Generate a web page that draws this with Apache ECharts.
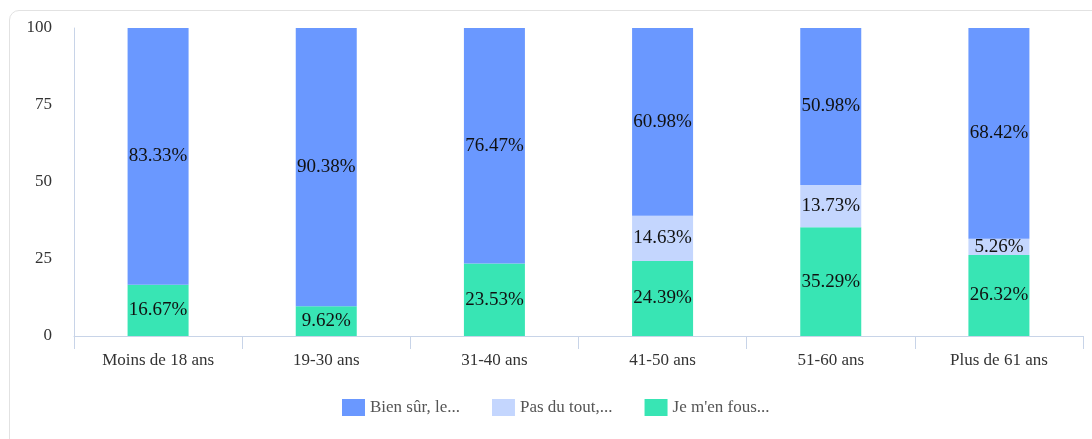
<!DOCTYPE html>
<html>
<head>
<meta charset="utf-8">
<style>
  html, body { margin: 0; padding: 0; background: #fff; }
  #frame {
    position: absolute; left: 9px; top: 10px; width: 1120px; height: 470px;
    border: 1px solid #e2e2e2; border-radius: 10px; box-sizing: border-box;
  }
  #chart { position: absolute; left: 0; top: 0; width: 1092px; height: 439px; }
</style>
<script src="https://cdn.jsdelivr.net/npm/echarts@6/dist/echarts.min.js"></script>
</head>
<body>
<div id="frame"></div>
<div id="chart"></div>
<script>
// Age groups along the x axis
const categories = ['Moins de 18 ans', '19-30 ans', '31-40 ans', '41-50 ans', '51-60 ans', 'Plus de 61 ans'];

// Share of answers per age group (%)
const bienSur   = [83.33, 90.38, 76.47, 60.98, 50.98, 68.42];
const pasDuTout = [0, 0, 0, 14.63, 13.73, 5.26];
const jeMenFous = [16.67, 9.62, 23.53, 24.39, 35.29, 26.32];

const yTicks = [0, 25, 50, 75, 100];

const serif = '"Liberation Serif", "DejaVu Serif", serif';

const labelStyle = {
  show: true,
  position: 'inside',
  color: '#111',
  fontFamily: serif,
  fontSize: 19,
  formatter: p => (p.value ? p.value.toFixed(2) + '%' : '')
};

function bar(name, data, color) {
  return {
    name: name,
    type: 'bar',
    stack: 'total',
    barWidth: 61,
    data: data,
    itemStyle: { color: color },
    label: labelStyle,
    emphasis: { disabled: true }
  };
}

const chart = echarts.init(document.getElementById('chart'), null, { renderer: 'canvas' });
chart.setOption({
  animation: false,
  textStyle: { fontFamily: serif },
  legend: {
    left: 337,
    top: 394,
    itemWidth: 23,
    itemHeight: 17,
    itemGap: 32,
    icon: 'rect',
    textStyle: { fontFamily: serif, fontSize: 17, color: '#555' },
    data: ['Bien sûr, le...', 'Pas du tout,...', "Je m'en fous..."]
  },
  grid: { left: 74, right: 9, top: 28, bottom: 103, containLabel: false },
  xAxis: {
    type: 'category',
    data: categories,
    axisLine: { lineStyle: { color: '#c8d4e8' } },
    axisTick: { show: true, length: 13, lineStyle: { color: '#c8d4e8' } },
    axisLabel: { fontFamily: serif, fontSize: 17, color: '#333', margin: 16 }
  },
  yAxis: {
    type: 'value',
    min: yTicks[0],
    max: yTicks[yTicks.length - 1],
    interval: 25,
    axisLine: { show: true, lineStyle: { color: '#c8d4e8' } },
    axisTick: { show: false },
    splitLine: { show: false },
    axisLabel: { fontFamily: serif, fontSize: 17, color: '#333', margin: 22, verticalAlign: 'middle', padding: [4, 0, 0, 0] }
  },
  series: [
    bar("Je m'en fous...", jeMenFous, '#38e5b4'),
    bar('Pas du tout,...', pasDuTout, '#c4d6fe'),
    bar('Bien sûr, le...', bienSur, '#6a98ff')
  ]
});
</script>
</body>
</html>
